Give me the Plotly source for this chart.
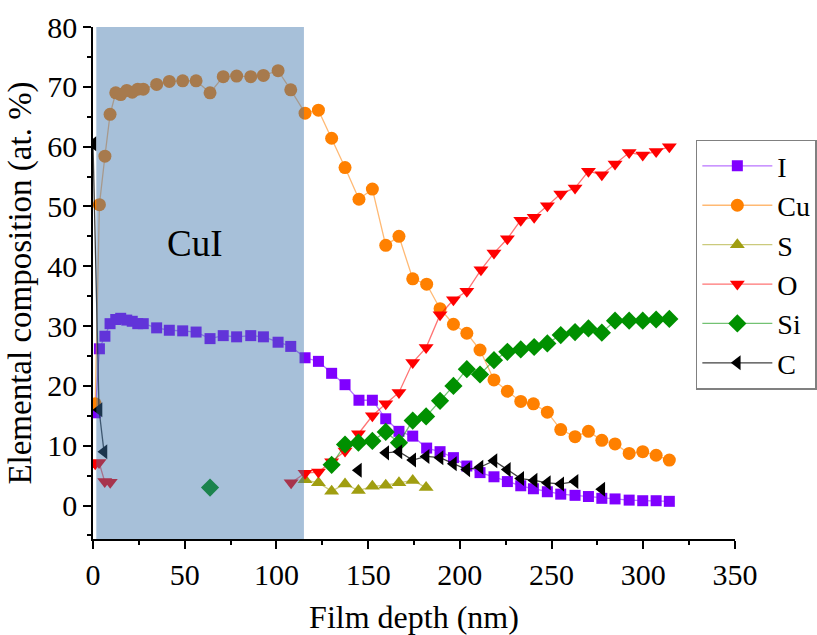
import plotly.graph_objects as go

# Depth profile (nm) shared by the I and Cu series
depth = [1.2, 3.5, 6.5, 9.3, 12.4, 15.1, 18.4, 21.4, 24.4, 27.4, 34.7, 41.6, 48.9, 56.2,
         63.8, 71.0, 78.3, 86.0, 92.9, 100.9, 107.8, 115.6, 122.9, 130.1, 137.4, 145.0,
         152.3, 159.6, 166.8, 174.3, 181.9, 189.2, 196.5, 203.8, 211.0, 218.6, 225.9,
         233.2, 240.1, 247.7, 255.0, 262.8, 270.1, 277.4, 284.6, 292.3, 299.7, 307.0, 314.2]

iodine = [15.5, 26.2, 28.3, 30.4, 31.1, 31.3, 31.0, 30.8, 30.4, 30.4, 29.7, 29.3, 29.2, 29.0,
          27.9, 28.4, 28.2, 28.4, 28.2, 27.3, 26.6, 24.7, 24.1, 22.1, 20.2, 17.6,
          17.6, 14.5, 12.4, 11.6, 9.6, 9.0, 8.0, 6.6, 5.5, 4.8, 4.0,
          3.3, 2.8, 2.3, 1.9, 1.7, 1.5, 1.2, 1.1, 0.9, 0.8, 0.8, 0.7]

copper = [17.0, 50.3, 58.4, 65.4, 69.0, 68.7, 69.4, 69.1, 69.6, 69.6, 70.4, 70.9, 71.0, 71.0,
          69.0, 71.7, 71.8, 71.7, 71.9, 72.7, 69.5, 65.6, 66.1, 61.4, 56.5, 51.2,
          52.9, 43.5, 45.0, 37.9, 37.0, 32.9, 30.3, 28.8, 26.0, 21.0, 19.1,
          17.4, 17.0, 15.6, 12.7, 11.5, 12.4, 10.9, 10.3, 8.7, 9.0, 8.4, 7.6]

sulfur_depth = [115.6, 122.9, 130.1, 137.4, 144.7, 152.3, 159.6, 166.8, 174.3, 181.6]
sulfur = [4.3, 3.8, 2.4, 3.6, 2.5, 3.2, 3.4, 3.8, 4.2, 3.0]

oxygen_depth = [1.2, 3.3, 6.4, 9.4, None, 108.0, 115.6, 122.9, 130.1, 137.4, 144.7, 152.3,
                159.6, 166.8, 174.3, 181.6, 189.2, 196.5, 203.8, 211.5, 218.6, 225.9,
                233.2, 240.5, 247.7, 255.0, 262.8, 270.1, 277.4, 284.6, 292.3, 299.7,
                307.0, 314.2]
oxygen = [7.0, 7.2, 4.0, 3.9, None, 3.8, 5.4, 5.6, 7.3, 9.1, 12.0, 15.0,
          17.0, 18.9, 23.9, 26.4, 31.9, 34.4, 35.8, 39.4, 42.2, 44.6,
          47.7, 48.2, 50.1, 52.1, 53.1, 55.9, 55.3, 57.1, 59.0, 58.6,
          59.2, 60.0]

silicon_depth = [63.8, None, 130.1, 137.4, 144.7, 152.3, 159.6, 166.8, 174.3, 181.6, 189.2,
                 196.5, 203.8, 211.0, 218.6, 225.9, 233.2, 240.5, 247.7, 255.0, 262.8,
                 270.1, 277.4, 284.6, 292.3, 299.7, 307.0, 314.2]
silicon = [3.0, None, 6.8, 10.2, 10.5, 10.8, 12.3, 10.5, 14.2, 14.9, 17.5,
           20.0, 22.8, 21.9, 24.3, 25.7, 26.1, 26.5, 27.1, 28.5, 29.0,
           29.6, 28.9, 30.9, 30.9, 30.9, 31.1, 31.2]

carbon_depth = [0.0, 3.3, 6.0, None, 144.7, None, 159.6, 166.8, 174.3, 181.6, 189.2, 196.5,
                203.8, 211.0, 218.6, 225.9, 233.2, 240.5, 247.7, 255.0, 262.8, None, 277.4]
carbon = [60.5, 16.0, 9.0, None, 5.9, None, 8.8, 9.0, 7.6, 8.2, 8.0, 7.0,
          6.0, 6.4, 7.5, 6.0, 4.5, 4.2, 3.8, 3.6, 4.0, None, 2.7]

# CuI layer extent (nm)
cui_start, cui_end = 1.8, 115.0

FONT = "Liberation Serif, Times New Roman, serif"

series = [
    ("I", depth, iodine, "#8000FF", "rgba(128,0,255,0.55)", "square", 11),
    ("Cu", depth, copper, "#FF8000", "rgba(255,128,0,0.55)", "circle", 13),
    ("S", sulfur_depth, sulfur, "#A09E10", "rgba(160,158,16,0.55)", "triangle-up", 13),
    ("O", oxygen_depth, oxygen, "#FF0000", "rgba(255,0,0,0.55)", "triangle-down", 13),
    ("Si", silicon_depth, silicon, "#009000", "rgba(0,144,0,0.55)", "diamond", 14),
    ("C", carbon_depth, carbon, "#000000", "rgba(0,0,0,0.75)", "triangle-left", 13),
]

fig = go.Figure()
for name, xs, ys, col, lcol, sym, sz in series:
    fig.add_trace(go.Scatter(
        x=xs, y=ys, name=name, mode="lines+markers",
        line=dict(color=lcol, width=1.3),
        marker=dict(symbol=sym, size=sz, color=col, line=dict(width=0)),
        connectgaps=False,
    ))

fig.add_shape(type="rect", xref="x", yref="y", x0=cui_start, x1=cui_end, y0=-5.6, y1=80,
              fillcolor="rgba(60,115,170,0.45)", line=dict(width=0), layer="above")

fig.add_annotation(x=55.5, y=43.8, text="CuI", showarrow=False,
                   font=dict(family=FONT, size=37, color="black"))

axis_common = dict(
    showline=True, linecolor="black", linewidth=1.5, mirror=False,
    ticks="outside", ticklen=8, tickwidth=1.5, tickcolor="black",
    showgrid=False, zeroline=False,
    tickfont=dict(family=FONT, size=30, color="black"),
)

fig.update_xaxes(range=[0, 350], dtick=50, tick0=0,
                 minor=dict(dtick=25, ticks="outside", ticklen=4, tickwidth=1.5, tickcolor="black"),
                 title=dict(text="Film depth (nm)", font=dict(family=FONT, size=32, color="black"),
                            standoff=20),
                 **axis_common)
fig.update_yaxes(range=[-5.6, 80], dtick=10, tick0=0,
                 minor=dict(dtick=5, ticks="outside", ticklen=4, tickwidth=1.5, tickcolor="black"),
                 title=dict(text="Elemental composition (at. %)",
                            font=dict(family=FONT, size=33, color="black"), standoff=6),
                 **axis_common)

fig.update_layout(
    width=817, height=635,
    margin=dict(l=93, r=82, t=27, b=96, autoexpand=False),
    paper_bgcolor="white", plot_bgcolor="white",
    showlegend=True,
    legend=dict(x=0.939, y=0.78, xanchor="left", yanchor="top",
                bordercolor="#808080", borderwidth=1.5, bgcolor="white",
                font=dict(family=FONT, size=28, color="black"),
                itemwidth=70, traceorder="normal"),
)

fig.write_html("out.html")
